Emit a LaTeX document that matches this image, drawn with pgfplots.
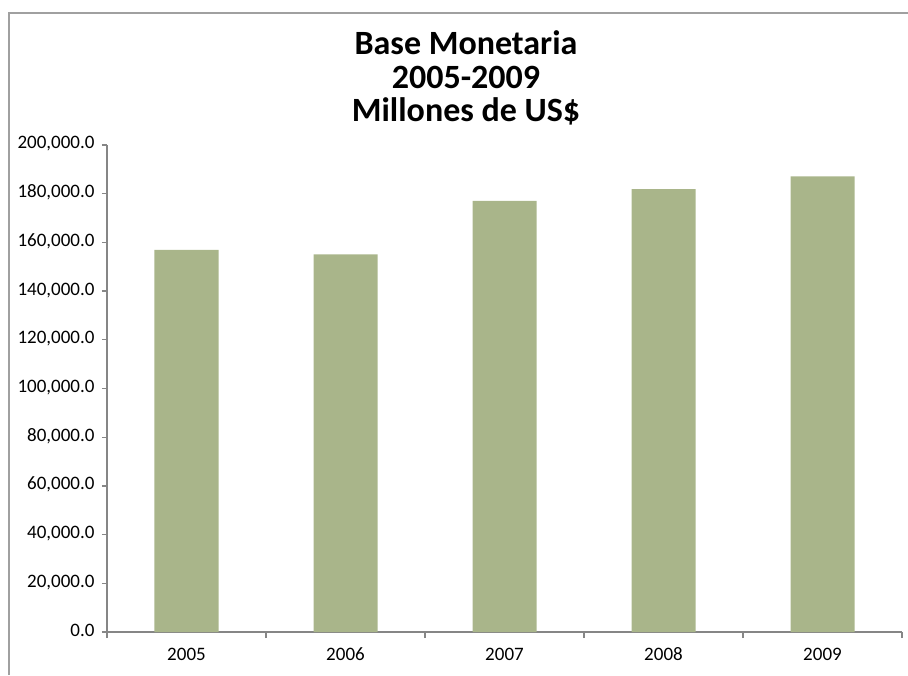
\documentclass[border=0pt]{standalone}
\usepackage{fontspec}
\setmainfont{Carlito}
\usepackage{pgfplots}
\pgfplotsset{compat=1.18}
\definecolor{barfill}{HTML}{A9B58A}
\definecolor{axisgray}{HTML}{868686}
\definecolor{framegray}{HTML}{A0A0A0}
\begin{document}
\begin{tikzpicture}[x=1pt,y=1pt]
  \useasboundingbox (0,0) rectangle (908,675);
  \draw[framegray, line width=2pt] (9,0) -- (9,662) -- (908,662);
  \node[align=center, font=\bfseries\fontsize{34}{33.5}\selectfont] at (466,597)
    {Base Monetaria\\2005-2009\\Millones de US\$};
  \begin{axis}[
    at={(107pt,43pt)}, anchor=south west,
    scale only axis, width=795pt, height=487pt,
    xmin=-0.5, xmax=4.5, ymin=0, ymax=200000,
    axis x line*=bottom, axis y line*=left,
    axis line style={-, axisgray, line width=1.3pt},
    xtick={0,...,4}, xticklabels={2005,2006,2007,2008,2009},
    minor xtick={-0.5,0.5,...,4.5},
    ytick={0,20000,...,200000},
    tick align=outside,
    major tick length=5pt, minor tick length=6pt,
    tick style={axisgray, line width=1.3pt},
    major x tick style={draw=none},
    scaled y ticks=false,
    typeset ticklabels with strut,
    ticklabel style={font=\fontsize{19}{20}\selectfont},
    xticklabel style={yshift=-6pt},
    yticklabel style={xshift=-4pt, /pgf/number format/.cd, fixed, fixed zerofill,
      precision=1, 1000 sep={,}, assume math mode=true},
    clip=false,
  ]
    \addplot[ybar, bar width=64pt, fill=barfill, draw=none] coordinates {
      (0,156900) (1,155100) (2,177100) (3,181900) (4,187100)
    };
  \end{axis}
\end{tikzpicture}
\end{document}
